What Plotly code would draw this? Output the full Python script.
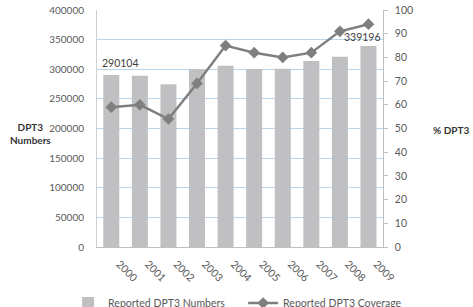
import plotly.graph_objects as go
from plotly.subplots import make_subplots

years = ["2000", "2001", "2002", "2003", "2004", "2005", "2006", "2007", "2008", "2009"]
dpt3_numbers = [290104, 289000, 274600, 300000, 306000, 300500, 301000, 314000, 321000, 339196]
dpt3_coverage = [59, 60, 54, 69, 85, 82, 80, 82, 91, 94]
left_ticks = [0, 50000, 100000, 150000, 200000, 250000, 300000, 350000, 400000]
right_ticks = [0, 10, 20, 30, 40, 50, 60, 70, 80, 90, 100]

FONT = "Lato"
GREY = "#595959"
TS = 10.5

fig = make_subplots(specs=[[{"secondary_y": True}]])
fig.add_trace(go.Bar(x=years, y=dpt3_numbers, name="Reported DPT3 Numbers",
                     marker=dict(color="#c0c0c2", line=dict(width=0))),
              secondary_y=False)
fig.add_trace(go.Scatter(x=years, y=dpt3_coverage, name="Reported DPT3 Coverage",
                         mode="lines+markers",
                         line=dict(color="#7f7f7f", width=2.5),
                         marker=dict(symbol="diamond", size=9, color="#7f7f7f")),
              secondary_y=True)

# data labels for first and last bars (category index positions)
fig.add_annotation(x=0, y=dpt3_numbers[0], text=f"{dpt3_numbers[0]}",
                   showarrow=False, xanchor="center", yanchor="middle", xshift=9, yshift=12,
                   font=dict(family=FONT, size=TS, color="#404040"))
fig.add_annotation(x=len(years) - 1, y=dpt3_numbers[-1], text=f"{dpt3_numbers[-1]}",
                   showarrow=False, xanchor="right", yanchor="middle", xshift=15, yshift=9,
                   font=dict(family=FONT, size=TS, color="#404040"))

# axis titles
fig.add_annotation(xref="paper", yref="paper", x=-0.22, y=0.48,
                   xanchor="center", yanchor="middle",
                   text="<b>DPT3<br>Numbers</b>", showarrow=False,
                   font=dict(family=FONT, size=10, color="#333333"), align="center")
fig.add_annotation(xref="paper", yref="paper", x=1.164, y=0.494,
                   xanchor="center", yanchor="middle",
                   text="<b>% DPT3</b>", showarrow=False,
                   font=dict(family=FONT, size=10, color="#333333"))

fig.update_layout(
    width=473, height=307,
    margin=dict(l=97, r=72, t=10, b=60, autoexpand=False),
    paper_bgcolor="white", plot_bgcolor="white",
    bargap=0.44,
    font=dict(family=FONT, size=TS, color=GREY),
    showlegend=True,
    legend=dict(orientation="h", x=-0.095, xanchor="left",
                y=-0.175, yanchor="top",
                entrywidth=130, entrywidthmode="pixels",
                font=dict(family=FONT, size=TS, color=GREY),
                bgcolor="rgba(0,0,0,0)"),
)
fig.update_xaxes(type="category", range=[-0.5, 9.5], tickangle=45, showline=True,
                 linecolor="#bfbfbf", linewidth=1, automargin=False,
                 ticklabelshift=8, ticklabelstandoff=6,
                 showgrid=False, ticks="", tickfont=dict(family=FONT, size=TS, color=GREY))
fig.update_yaxes(range=[0, 400000], tickvals=left_ticks, tickformat="d", showgrid=True,
                 gridcolor="#b7d6ec", gridwidth=1, showline=True, linecolor="#d0d0d0",
                 zeroline=False, ticks="", ticklabelstandoff=10, automargin=False,
                 tickfont=dict(family=FONT, size=10, color=GREY), secondary_y=False)
fig.update_yaxes(range=[0, 100], tickvals=right_ticks, showgrid=False,
                 showline=True, linecolor="#bfbfbf", linewidth=1, zeroline=False,
                 ticks="outside", ticklen=4, tickcolor="#bfbfbf", ticklabelstandoff=5,
                 automargin=False,
                 tickfont=dict(family=FONT, size=TS, color=GREY), secondary_y=True)

fig.write_html("out.html")
